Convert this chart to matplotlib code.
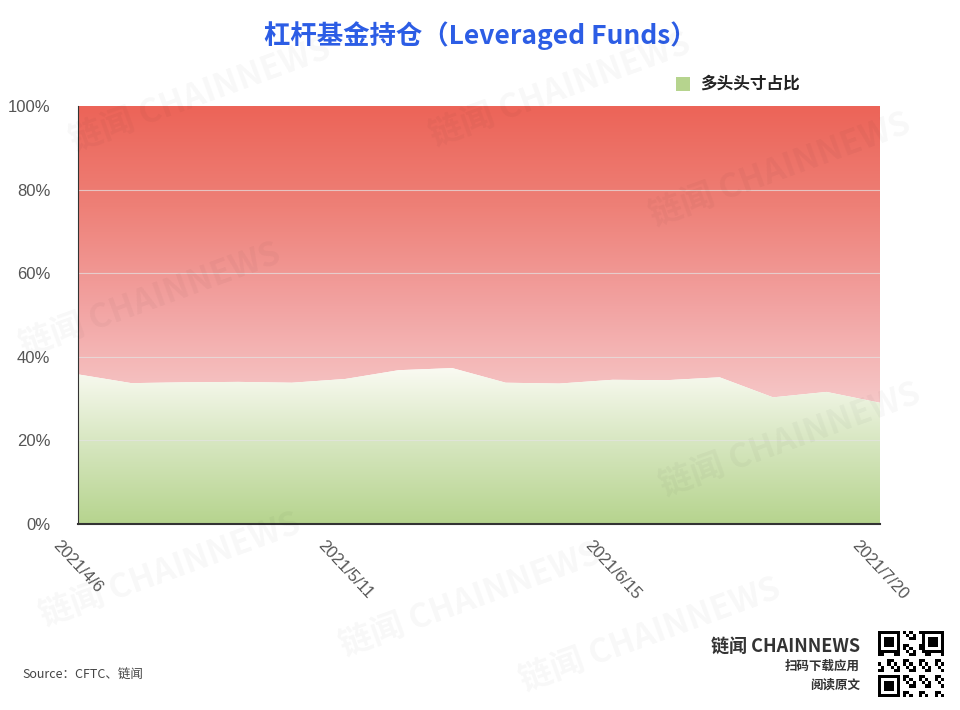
import numpy as np
import matplotlib
matplotlib.use("Agg")
import matplotlib.pyplot as plt
from matplotlib.colors import LinearSegmentedColormap

plt.rcParams['font.family'] = ['Noto Sans CJK SC', 'DejaVu Sans']

dates = ['2021/4/6', '2021/4/13', '2021/4/20', '2021/4/27', '2021/5/4', '2021/5/11',
         '2021/5/18', '2021/5/25', '2021/6/1', '2021/6/8', '2021/6/15', '2021/6/22',
         '2021/6/29', '2021/7/6', '2021/7/13', '2021/7/20']
long_pct = [35.8, 33.7, 33.9, 34.0, 33.8, 34.7, 36.8, 37.3,
            33.8, 33.6, 34.5, 34.4, 35.1, 30.3, 31.6, 29.0]
y_ticks = [0, 20, 40, 60, 80, 100]
y_labels = ['0%', '20%', '40%', '60%', '80%', '100%']
shown = [0, 5, 10, 15]

x = np.arange(len(dates))
y = np.array(long_pct)

fig = plt.figure(figsize=(9.6, 7.1), dpi=100)
ax = fig.add_axes([78 / 960, 1 - 524 / 710, 802 / 960, 418 / 710])
ax.set_xlim(0, len(dates) - 1)
ax.set_ylim(0, 100)

# gradients clipped to the two areas
red_cmap = LinearSegmentedColormap.from_list('r', ['#f6c9c9', '#f2a3a2', '#ee8077', '#ec6458'])
green_cmap = LinearSegmentedColormap.from_list('g', ['#b6d48e', '#d6e6bf', '#fbfbf4'])

grad = np.linspace(0, 1, 256).reshape(-1, 1)
red_poly = ax.fill_between(x, y, 100, facecolor='none', edgecolor='none')
img = ax.imshow(grad, cmap=red_cmap, aspect='auto', origin='lower',
                extent=[0, len(dates) - 1, 28, 100], zorder=1)
img.set_clip_path(red_poly.get_paths()[0], transform=ax.transData)

green_poly = ax.fill_between(x, 0, y, facecolor='none', edgecolor='none')
img2 = ax.imshow(grad, cmap=green_cmap, aspect='auto', origin='lower',
                 extent=[0, len(dates) - 1, 0, 38], zorder=1)
img2.set_clip_path(green_poly.get_paths()[0], transform=ax.transData)

for g in [20, 40, 60, 80]:
    ax.axhline(g, color='#e4e4e4', lw=0.8, alpha=0.7, zorder=2)

ax.set_yticks(y_ticks)
ax.set_yticklabels(y_labels, color='#555555', fontsize=12, family=['Liberation Sans', 'DejaVu Sans'])
ax.set_xticks([x[i] for i in shown])
ax.set_xticklabels([dates[i] for i in shown], rotation=-47, ha='center', va='top',
                   color='#555555', fontsize=12,
                   family=['Liberation Sans', 'DejaVu Sans'])
ax.tick_params(length=0, pad=10)
ax.tick_params(axis='y', pad=20)
for s in ['top', 'right']:
    ax.spines[s].set_visible(False)
ax.spines['left'].set_color('#333333')
ax.spines['bottom'].set_color('#333333')
ax.spines['bottom'].set_linewidth(1.5)

# title and legend
fig.text(0.5, 1 - 36 / 710, '杠杆基金持仓（Leveraged Funds）', ha='center', va='center',
         fontsize=19, fontweight='bold', color='#2c5de5')
fig.patches.append(plt.Rectangle((676 / 960, 1 - 91 / 710), 14 / 960, 14 / 710,
                                 transform=fig.transFigure, facecolor='#b6d48e',
                                 edgecolor='none'))
fig.text(700 / 960, 1 - 84 / 710, '多头头寸占比', ha='left', va='center',
         fontsize=12, fontweight='bold', color='#222222')

# watermarks
for wx, wy in [(200, 95), (560, 90), (780, 170), (150, 300), (790, 440),
               (170, 570), (470, 600), (650, 635)]:
    fig.text(wx / 960, 1 - wy / 710, '链闻 CHAINNEWS', ha='center', va='center',
             fontsize=24, fontweight='bold', style='italic', rotation=20,
             color='#000000', alpha=0.03)

# footer
fig.text(22 / 960, 1 - 675 / 710, 'Source：CFTC、链闻', ha='left', va='center',
         fontsize=9, color='#444444')
fig.text(860 / 960, 1 - 646 / 710, '链闻 CHAINNEWS', ha='right', va='center',
         fontsize=13, fontweight='bold', color='#333333')
fig.text(860 / 960, 1 - 666 / 710, '扫码下载应用', ha='right', va='center',
         fontsize=9, fontweight='bold', color='#333333')
fig.text(860 / 960, 1 - 685 / 710, '阅读原文', ha='right', va='center',
         fontsize=9, fontweight='bold', color='#333333')

# mock QR block
qr = fig.add_axes([878 / 960, 1 - 697 / 710, 66 / 960, 66 / 710])
n = 21
ii, jj = np.meshgrid(np.arange(n), np.arange(n))
pattern = ((ii * 7 + jj * 13 + ii * jj) % 5 < 2).astype(float)
for cx, cy in [(0, 0), (0, n - 7), (n - 7, 0)]:
    pattern[cy:cy + 7, cx:cx + 7] = 0
    pattern[cy:cy + 7, cx] = pattern[cy:cy + 7, cx + 6] = 1
    pattern[cy, cx:cx + 7] = pattern[cy + 6, cx:cx + 7] = 1
    pattern[cy + 2:cy + 5, cx + 2:cx + 5] = 1
qr.imshow(pattern, cmap='Greys', interpolation='nearest')
qr.axis('off')

fig.savefig('out.png', dpi=100)
